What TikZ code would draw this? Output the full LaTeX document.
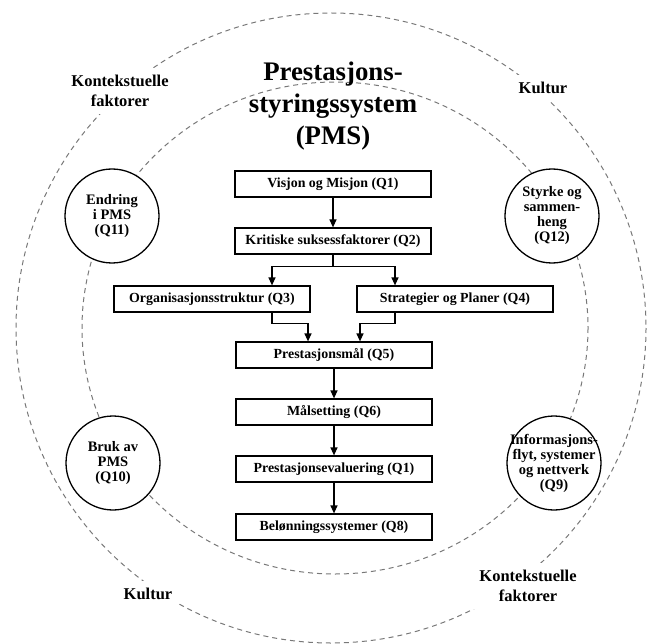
\documentclass[tikz,border=0pt]{standalone}
\usepackage{fontspec}
\setmainfont{Liberation Serif}
\usetikzlibrary{arrows.meta}
\definecolor{ringgray}{RGB}{120,120,120}
\begin{document}
\begin{tikzpicture}[x=1pt,y=-1pt,
  ring/.style={draw=ringgray, line width=1pt, dash pattern=on 5pt off 4pt},
  stepbox/.style={draw, line width=1.2pt, fill=white, minimum width=196pt,
    minimum height=26pt, inner sep=0pt, font=\bfseries\fontsize{13.9}{16}\selectfont},
  qcircle/.style={circle, draw, line width=1.3pt, fill=white, minimum size=94pt, inner sep=0pt},
  qtext/.style={align=center, inner sep=0pt, font=\bfseries\fontsize{14.5}{15}\selectfont},
  ctxlabel/.style={fill=white, inner sep=7pt, align=center,
    font=\bfseries\fontsize{16.5}{20}\selectfont},
  arr/.style={line width=1.2pt, -{Triangle[length=8pt,width=7pt]}},
]
\useasboundingbox (0,0) rectangle (647,644);

% outer and inner context rings
\draw[ring] (331,328) circle [radius=315];
\draw[ring] (335,328) ellipse [x radius=253, y radius=246];

% title
\node[align=center, font=\bfseries\fontsize{26.8}{32}\selectfont] (title) at (333,106)
  {Prestasjons-\\styringssystem\\(PMS)};

% ring labels
\node[ctxlabel] (ctxA) at (120,91) {Kontekstuelle\\faktorer};
\node[ctxlabel] (cultA) at (543,88) {Kultur};
\node[ctxlabel] (cultB) at (148,594) {Kultur};
\node[ctxlabel] (ctxB) at (528,586) {Kontekstuelle\\faktorer};

% process boxes
\node[stepbox] (q1) at (333,184) {Visjon og Misjon (Q1)};
\node[stepbox] (q2) at (333,241) {Kritiske suksessfaktorer (Q2)};
\node[stepbox] (q3) at (212,299) {Organisasjonsstruktur (Q3)};
\node[stepbox] (q4) at (455,299) {Strategier og Planer (Q4)};
\node[stepbox] (q5) at (334,355) {Prestasjonsmål (Q5)};
\node[stepbox] (q6) at (334,412) {Målsetting (Q6)};
\node[stepbox] (q7) at (334,469) {Prestasjonsevaluering (Q1)};
\node[stepbox] (q8) at (334,527) {Belønningssystemer (Q8)};

% connectors
\draw[arr] (q1) -- (q2);
\draw[arr] (q2.south) -- ++(0,12) -| ([xshift=60pt]q3.north);
\draw[arr] (q2.south) -- ++(0,12) -| ([xshift=-60pt]q4.north);
\draw[arr] ([xshift=60pt]q3.south) -- ++(0,11) -| ([xshift=-26pt]q5.north);
\draw[arr] ([xshift=-60pt]q4.south) -- ++(0,11) -| ([xshift=26pt]q5.north);
\draw[arr] (q5) -- (q6);
\draw[arr] (q6) -- (q7);
\draw[arr] (q7) -- (q8);

% side questions
\node[qcircle, label={[qtext]center:{Endring\\i PMS\\(Q11)}}] (q11) at (112,216) {};
\node[qcircle, label={[qtext]center:{Styrke og\\sammen-\\heng\\(Q12)}}] (q12) at (552,216) {};
\node[qcircle, label={[qtext]center:{Bruk av\\PMS\\(Q10)}}] (q10) at (113,463) {};
\node[qcircle, label={[qtext]center:{Informasjons-\\flyt, systemer\\og nettverk\\(Q9)}}] (q9) at (554,463) {};
\end{tikzpicture}
\end{document}
